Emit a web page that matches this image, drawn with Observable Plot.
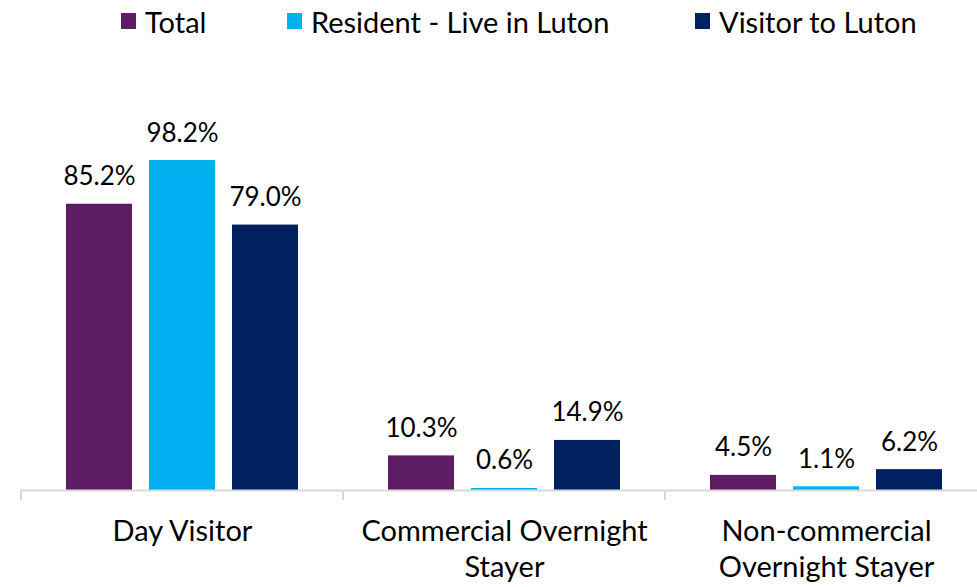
<!DOCTYPE html>
<html>
<head>
<meta charset="utf-8">
<script src="https://cdn.jsdelivr.net/npm/d3@7"></script>
<script src="https://cdn.jsdelivr.net/npm/@observablehq/plot@0.6"></script>
<style>
  html, body { margin: 0; padding: 0; background: #fff; overflow: hidden; width: 977px; height: 587px; }
  body { font-family: Lato, "Open Sans", sans-serif; }
  #legend { position: relative; height: 44px; font-size: 29px; color: #000; }
  .item { position: absolute; top: 0; height: 42px; display: flex; align-items: center; white-space: nowrap; }
  .sw { width: 15px; height: 16px; margin-right: 9px; }
  #chart { width: 977px; overflow: hidden; }
  #chart svg { display: block; max-width: none !important; width: 987px !important; height: 543px !important; }
</style>
</head>
<body>
<div id="legend"></div>
<div id="chart"></div>
<script>
const categories = ["Day Visitor", "Commercial Overnight Stayer", "Non-commercial Overnight Stayer"];
const categoryLabels = ["Day Visitor", "Commercial Overnight\nStayer", "Non-commercial\nOvernight Stayer"];
const series = ["Total", "Resident - Live in Luton", "Visitor to Luton"];
const seriesColors = ["#5E1D62", "#00B0F0", "#002060"];
const totalValues = [85.2, 10.3, 4.5];
const residentValues = [98.2, 0.6, 1.1];
const visitorValues = [79.0, 14.9, 6.2];

// legend layout (left offsets of the legend entries)
const legendLeft = [121, 287, 695];

const valuesBySeries = [totalValues, residentValues, visitorValues];
const data = [];
categories.forEach((c, i) => {
  series.forEach((s, j) => data.push({category: c, series: s, value: valuesBySeries[j][i]}));
});

// legend
const legend = document.getElementById("legend");
series.forEach((s, j) => {
  const it = document.createElement("div");
  it.className = "item";
  it.style.left = legendLeft[j] + "px";
  const sw = document.createElement("span");
  sw.className = "sw";
  sw.style.background = seriesColors[j];
  const t = document.createElement("span");
  t.textContent = s;
  it.appendChild(sw); it.appendChild(t);
  legend.appendChild(it);
});

const labelMap = new Map(categories.map((c, i) => [c, categoryLabels[i]]));

const plot = Plot.plot({
  width: 987,
  height: 543,
  marginLeft: 21,
  marginRight: 0,
  marginTop: 110,
  marginBottom: 97,
  style: {fontFamily: "Lato, 'Open Sans', sans-serif", color: "#000", background: "#fff"},
  fx: {domain: categories, padding: 0, label: null, axis: null},
  x: {domain: series, paddingInner: 0.205, paddingOuter: 0.542, axis: null},
  y: {domain: [0, 100], axis: null},
  color: {domain: series, range: seriesColors},
  marks: [
    Plot.barY(data, {fx: "category", x: "series", y: "value", fill: "series"}),
    Plot.ruleY([0], {stroke: "#d9d9d9", strokeWidth: 2}),
    Plot.text(data, {fx: "category", x: "series", y: "value", text: d => d.value.toFixed(1) + "%",
      lineAnchor: "bottom", dy: -19, fontSize: 26, fill: "#000"}),
    Plot.axisFx({anchor: "bottom", tickSize: 0, tickPadding: 25, fontSize: 29, lineHeight: 1.25,
      tickFormat: d => labelMap.get(d), label: null})
  ]
});
document.getElementById("chart").appendChild(plot);

// category boundary ticks below the baseline, positioned from the fx scale
const fx = plot.scale("fx");
const y = plot.scale("y");
const y0 = y.apply(0);
const edges = categories.map(c => fx.apply(c));
edges.push(fx.apply(categories[categories.length - 1]) + fx.bandwidth);
d3.select(plot).append("g")
  .selectAll("line").data(edges).join("line")
  .attr("x1", d => d).attr("x2", d => d)
  .attr("y1", y0).attr("y2", y0 + 10)
  .attr("stroke", "#d9d9d9").attr("stroke-width", 2);
</script>
</body>
</html>
